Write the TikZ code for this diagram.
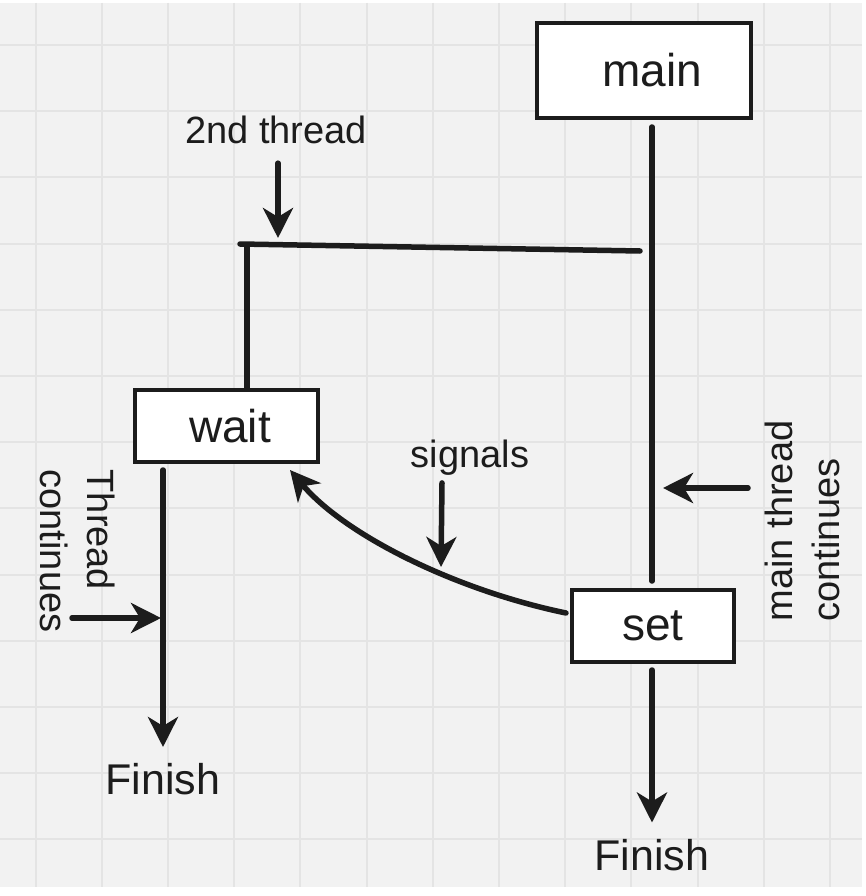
\documentclass[tikz,border=0pt]{standalone}
\usepackage{fontspec}
\setmainfont{Liberation Sans}
\usetikzlibrary{arrows.meta}
\definecolor{ink}{HTML}{1C1C1C}
\definecolor{bgc}{HTML}{F2F2F2}
\definecolor{gridc}{HTML}{E4E4E4}
\begin{document}
\begin{tikzpicture}[x=1pt,y=-1pt,
  box/.style={draw=ink, fill=white, line width=4pt, inner sep=0pt, text=ink, font=\fontsize{46}{50}\selectfont},
  lbl/.style={font=\fontsize{38}{47}\selectfont, text=ink, inner sep=0pt},
  fin/.style={font=\fontsize{43}{48}\selectfont, text=ink, inner sep=0pt},
  wire/.style={draw=ink, line width=5.5pt, line cap=round},
  arr/.style={wire, -{Stealth[length=30pt,width=30pt,inset=9pt]}},
  gridline/.style={draw=gridc, line width=2pt}]
\useasboundingbox (0,0) rectangle (866,896);
\fill[white] (0,0) rectangle (866,896);
\fill[bgc] (0,3) rectangle (862,887);
\foreach \i in {0,...,12} {\draw[gridline] ({35.5+66.2*\i},3) -- ({35.5+66.2*\i},887);}
\foreach \j in {0,...,12} {\draw[gridline] (0,{45+66.2*\j}) -- (862,{45+66.2*\j});}

% boxes
\node[box, minimum width=214pt, minimum height=95pt] (main) at (644,70.5) {\hspace*{16pt}main};
\node[box, minimum width=183pt, minimum height=72pt] (wait) at (226.5,426) {\hspace*{7pt}wait};
\node[box, minimum width=162pt, minimum height=72pt] (set) at (653,626) {set};

% labels
\node[lbl] (l2nd) at (276,130) {2nd thread};
\node[lbl] (lsig) at (470,458) {signals};
\node[lbl, rotate=-90, align=left] (lthr) at (78,551) {Thread\\continues};
\node[lbl, rotate=90, align=left] (lmain) at (802,521) {main thread\\continues};
\node[fin] (fin1) at (163,779) {Finish};
\node[fin] (fin2) at (652,855) {Finish};

% coordinates
\coordinate (hl) at (240,244);
\coordinate (hr) at (640,251);
\coordinate (hj) at (247,245);
\coordinate (t2tip) at (278,238);
\coordinate (tcs) at (72,618);
\coordinate (tce) at (161,618);
\coordinate (sigtip) at (441,567);
\coordinate (mcs) at (748,488);
\coordinate (mce) at (663,488);

% connectors
\draw[wire] ([xshift=8pt,yshift=-7pt]main.south) -- ([xshift=-1pt,yshift=7pt]set.north);
\draw[wire] (hl) -- (hr);
\draw[wire] (hj) -- ([xshift=20.5pt]wait.north);
\draw[arr] ([xshift=2pt,yshift=-19pt]l2nd.south) -- (t2tip);
\draw[arr] ([xshift=-63.5pt,yshift=-6pt]wait.south) -- ([yshift=16pt]fin1.north);
\draw[arr] (tcs) -- (tce);
\draw[arr] ([xshift=-4pt,yshift=13pt]set.west) .. controls (455,590) and (345,535) .. ([xshift=-30pt,yshift=-6pt]wait.south east);
\draw[arr] ([xshift=-28pt,yshift=-7pt]lsig.south) -- (sigtip);
\draw[arr] (mcs) -- (mce);
\draw[arr] ([xshift=-1pt,yshift=-6pt]set.south) -- ([yshift=16.5pt]fin2.north);
\end{tikzpicture}
\end{document}
